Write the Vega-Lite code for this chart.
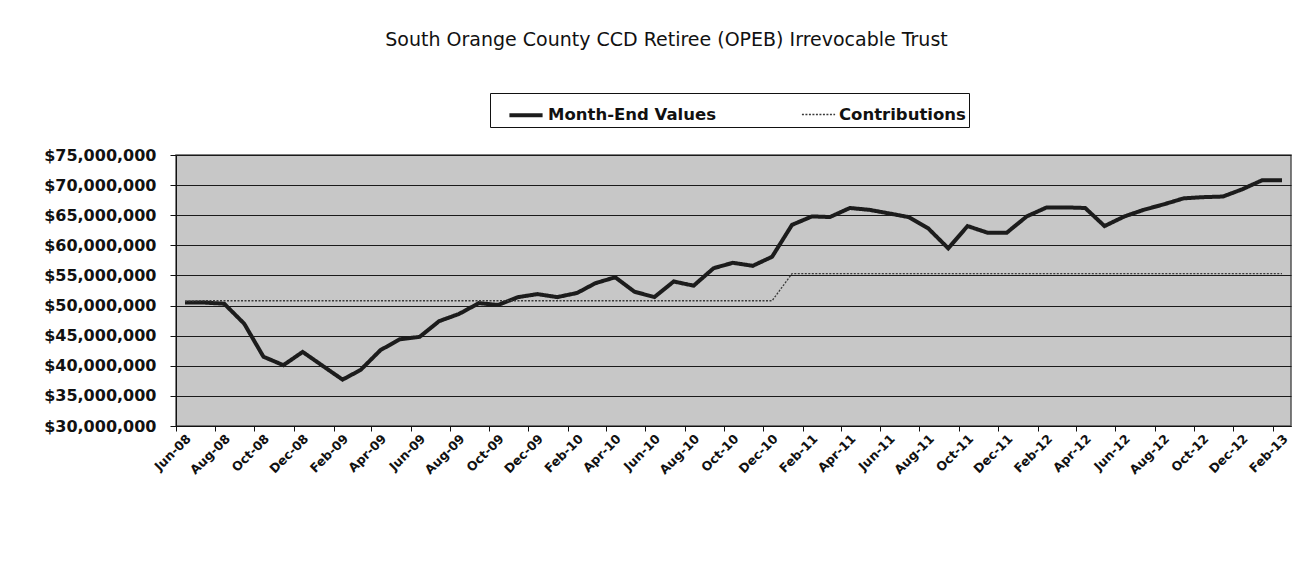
{
  "$schema": "https://vega.github.io/schema/vega-lite/v6.json",
  "width": 1115,
  "height": 271,
  "autosize": {"type": "none"},
  "padding": {"left": 176, "top": 155, "right": 19, "bottom": 139},
  "background": "white",
  "title": {
    "text": "South Orange County CCD Retiree (OPEB) Irrevocable Trust",
    "font": "DejaVu Sans",
    "fontSize": 19,
    "fontWeight": "normal",
    "color": "#111",
    "anchor": "middle",
    "frame": "group",
    "dx": -67,
    "offset": 43
  },
  "data": {
    "values": [
      {"d": "2008/06/15", "Month-End Values": 50500000, "Contributions": 50700000},
      {"d": "2008/07/15", "Month-End Values": 50500000, "Contributions": 50800000},
      {"d": "2008/08/15", "Month-End Values": 50300000, "Contributions": 50800000},
      {"d": "2008/09/15", "Month-End Values": 47000000, "Contributions": 50800000},
      {"d": "2008/10/15", "Month-End Values": 41500000, "Contributions": 50800000},
      {"d": "2008/11/15", "Month-End Values": 40100000, "Contributions": 50800000},
      {"d": "2008/12/15", "Month-End Values": 42300000, "Contributions": 50800000},
      {"d": "2009/01/15", "Month-End Values": 40000000, "Contributions": 50800000},
      {"d": "2009/02/15", "Month-End Values": 37700000, "Contributions": 50800000},
      {"d": "2009/03/15", "Month-End Values": 39300000, "Contributions": 50800000},
      {"d": "2009/04/15", "Month-End Values": 42600000, "Contributions": 50800000},
      {"d": "2009/05/15", "Month-End Values": 44400000, "Contributions": 50800000},
      {"d": "2009/06/15", "Month-End Values": 44800000, "Contributions": 50800000},
      {"d": "2009/07/15", "Month-End Values": 47400000, "Contributions": 50800000},
      {"d": "2009/08/15", "Month-End Values": 48600000, "Contributions": 50800000},
      {"d": "2009/09/15", "Month-End Values": 50400000, "Contributions": 50800000},
      {"d": "2009/10/15", "Month-End Values": 50100000, "Contributions": 50800000},
      {"d": "2009/11/15", "Month-End Values": 51400000, "Contributions": 50800000},
      {"d": "2009/12/15", "Month-End Values": 51900000, "Contributions": 50800000},
      {"d": "2010/01/15", "Month-End Values": 51400000, "Contributions": 50800000},
      {"d": "2010/02/15", "Month-End Values": 52100000, "Contributions": 50800000},
      {"d": "2010/03/15", "Month-End Values": 53700000, "Contributions": 50800000},
      {"d": "2010/04/15", "Month-End Values": 54700000, "Contributions": 50800000},
      {"d": "2010/05/15", "Month-End Values": 52300000, "Contributions": 50800000},
      {"d": "2010/06/15", "Month-End Values": 51400000, "Contributions": 50800000},
      {"d": "2010/07/15", "Month-End Values": 54000000, "Contributions": 50800000},
      {"d": "2010/08/15", "Month-End Values": 53300000, "Contributions": 50800000},
      {"d": "2010/09/15", "Month-End Values": 56200000, "Contributions": 50800000},
      {"d": "2010/10/15", "Month-End Values": 57100000, "Contributions": 50800000},
      {"d": "2010/11/15", "Month-End Values": 56600000, "Contributions": 50800000},
      {"d": "2010/12/15", "Month-End Values": 58100000, "Contributions": 50800000},
      {"d": "2011/01/15", "Month-End Values": 63400000, "Contributions": 55300000},
      {"d": "2011/02/15", "Month-End Values": 64800000, "Contributions": 55300000},
      {"d": "2011/03/15", "Month-End Values": 64700000, "Contributions": 55300000},
      {"d": "2011/04/15", "Month-End Values": 66200000, "Contributions": 55300000},
      {"d": "2011/05/15", "Month-End Values": 65900000, "Contributions": 55300000},
      {"d": "2011/06/15", "Month-End Values": 65300000, "Contributions": 55300000},
      {"d": "2011/07/15", "Month-End Values": 64700000, "Contributions": 55300000},
      {"d": "2011/08/15", "Month-End Values": 62800000, "Contributions": 55300000},
      {"d": "2011/09/15", "Month-End Values": 59500000, "Contributions": 55300000},
      {"d": "2011/10/15", "Month-End Values": 63200000, "Contributions": 55300000},
      {"d": "2011/11/15", "Month-End Values": 62100000, "Contributions": 55300000},
      {"d": "2011/12/15", "Month-End Values": 62100000, "Contributions": 55300000},
      {"d": "2012/01/15", "Month-End Values": 64800000, "Contributions": 55300000},
      {"d": "2012/02/15", "Month-End Values": 66300000, "Contributions": 55300000},
      {"d": "2012/03/15", "Month-End Values": 66300000, "Contributions": 55300000},
      {"d": "2012/04/15", "Month-End Values": 66200000, "Contributions": 55300000},
      {"d": "2012/05/15", "Month-End Values": 63200000, "Contributions": 55300000},
      {"d": "2012/06/15", "Month-End Values": 64800000, "Contributions": 55300000},
      {"d": "2012/07/15", "Month-End Values": 65900000, "Contributions": 55300000},
      {"d": "2012/08/15", "Month-End Values": 66800000, "Contributions": 55300000},
      {"d": "2012/09/15", "Month-End Values": 67800000, "Contributions": 55300000},
      {"d": "2012/10/15", "Month-End Values": 68000000, "Contributions": 55300000},
      {"d": "2012/11/15", "Month-End Values": 68100000, "Contributions": 55300000},
      {"d": "2012/12/15", "Month-End Values": 69300000, "Contributions": 55300000},
      {"d": "2013/01/15", "Month-End Values": 70800000, "Contributions": 55300000},
      {"d": "2013/02/15", "Month-End Values": 70800000, "Contributions": 55300000}
    ]
  },
  "transform": [
    {"fold": ["Month-End Values", "Contributions"], "as": ["series", "value"]}
  ],
  "mark": {"type": "line", "clip": true},
  "encoding": {
    "x": {
      "field": "d",
      "type": "temporal",
      "scale": {"domain": [{"year": 2008, "month": 6, "date": 1}, {"year": 2013, "month": 3, "date": 1}]},
      "axis": {
        "title": null,
        "format": "%b-%y",
        "values": [
          {"year": 2008, "month": 6, "date": 1}, {"year": 2008, "month": 8, "date": 1}, {"year": 2008, "month": 10, "date": 1}, {"year": 2008, "month": 12, "date": 1},
          {"year": 2009, "month": 2, "date": 1}, {"year": 2009, "month": 4, "date": 1}, {"year": 2009, "month": 6, "date": 1}, {"year": 2009, "month": 8, "date": 1}, {"year": 2009, "month": 10, "date": 1}, {"year": 2009, "month": 12, "date": 1},
          {"year": 2010, "month": 2, "date": 1}, {"year": 2010, "month": 4, "date": 1}, {"year": 2010, "month": 6, "date": 1}, {"year": 2010, "month": 8, "date": 1}, {"year": 2010, "month": 10, "date": 1}, {"year": 2010, "month": 12, "date": 1},
          {"year": 2011, "month": 2, "date": 1}, {"year": 2011, "month": 4, "date": 1}, {"year": 2011, "month": 6, "date": 1}, {"year": 2011, "month": 8, "date": 1}, {"year": 2011, "month": 10, "date": 1}, {"year": 2011, "month": 12, "date": 1},
          {"year": 2012, "month": 2, "date": 1}, {"year": 2012, "month": 4, "date": 1}, {"year": 2012, "month": 6, "date": 1}, {"year": 2012, "month": 8, "date": 1}, {"year": 2012, "month": 10, "date": 1}, {"year": 2012, "month": 12, "date": 1},
          {"year": 2013, "month": 2, "date": 1}
        ],
        "labelAngle": -45,
        "labelAlign": "right",
        "labelBaseline": "top",
        "labelOffset": 8,
        "labelPadding": 1,
        "labelFont": "DejaVu Sans",
        "labelFontWeight": "bold",
        "labelFontSize": 12.5,
        "labelColor": "#111",
        "labelOverlap": false,
        "labelFlush": false,
        "labelBound": false,
        "tickColor": "#111",
        "tickSize": 5,
        "domainColor": "#111",
        "grid": false
      }
    },
    "y": {
      "field": "value",
      "type": "quantitative",
      "scale": {"domain": [30000000, 75000000], "nice": false, "zero": false},
      "axis": {
        "title": null,
        "values": [30000000, 35000000, 40000000, 45000000, 50000000, 55000000, 60000000, 65000000, 70000000, 75000000],
        "format": "$,.0f",
        "labelFont": "DejaVu Sans",
        "labelFontWeight": "bold",
        "labelFontSize": 16,
        "labelColor": "#111",
        "labelPadding": 14,
        "tickColor": "#111",
        "tickSize": 6,
        "domainColor": "#111",
        "grid": true,
        "gridColor": "#1a1a1a",
        "gridWidth": 1.2,
        "gridOpacity": 1
      }
    },
    "color": {
      "field": "series",
      "type": "nominal",
      "scale": {"domain": ["Month-End Values", "Contributions"], "range": ["#1c1c1c", "#3a3a3a"]},
      "legend": {
        "title": null,
        "orient": "none",
        "direction": "horizontal",
        "legendX": 314,
        "legendY": -62,
        "padding": 3,
        "titlePadding": 0,
        "columnPadding": 71,
        "gridAlign": "all",
        "strokeColor": "#111",
        "fillColor": "white",
        "symbolType": "stroke",
        "symbolSize": 1100,
        "symbolOffset": 14,
        "labelOffset": 3,
        "labelFont": "DejaVu Sans",
        "labelFontWeight": "bold",
        "labelFontSize": 16.5,
        "labelColor": "#111",
        "labelLimit": 300
      }
    },
    "strokeDash": {
      "field": "series",
      "type": "nominal",
      "scale": {"domain": ["Month-End Values", "Contributions"], "range": [[1, 0], [2, 1.5]]},
      "legend": {"title": null}
    },
    "strokeWidth": {
      "field": "series",
      "type": "nominal",
      "scale": {"domain": ["Month-End Values", "Contributions"], "range": [4, 1.3]},
      "legend": {"title": null}
    }
  },
  "config": {
    "view": {"fill": "#c7c7c7", "stroke": "#555", "strokeWidth": 1.5},
    "axis": {"labelFont": "DejaVu Sans"},
    "legend": {"titlePadding": 0}
  }
}
